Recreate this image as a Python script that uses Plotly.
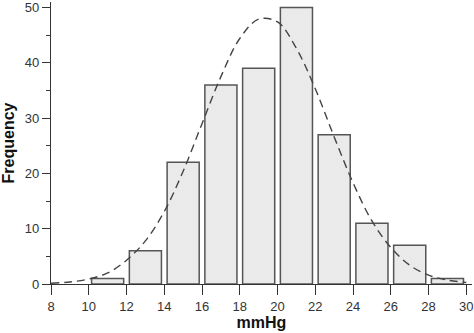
import plotly.graph_objects as go

bin_left = [10, 12, 14, 16, 18, 20, 22, 24, 26, 28]
bin_width = 2
frequency = [1, 6, 22, 36, 39, 50, 27, 11, 7, 1]

curve_x = [8, 9, 10, 11, 12, 13, 14, 15, 16, 17, 18, 19, 20, 21, 22, 23, 24, 25, 26, 27, 28, 29, 30]
curve_y = [0.14, 0.37, 0.91, 2.0, 4.3, 7.8, 13.1, 20.4, 29.0, 37.5, 44.4, 47.9, 47.4, 42.6, 35.3, 26.6, 18.3, 11.4, 6.6, 3.4, 1.6, 0.71, 0.28]

x_ticks = list(range(8, 31, 2))
y_ticks = [0, 10, 20, 30, 40, 50]

centers = [b + bin_width / 2 for b in bin_left]

fig = go.Figure()
fig.add_trace(go.Bar(
    x=centers, y=frequency, width=1.7,
    marker=dict(
        color="#f0f0f0",
        line=dict(color="#555555", width=1.5),
        pattern=dict(shape=".", fgcolor="#c6c6c6", bgcolor="#f3f3f3", size=2, solidity=0.4),
    ),
    showlegend=False,
))
fig.add_trace(go.Scatter(
    x=curve_x, y=curve_y, mode="lines", line_shape="spline",
    line=dict(color="#444444", width=1.4, dash="8px,5px"),
    showlegend=False,
))

axis_font = dict(family="Liberation Sans, Arial, sans-serif", size=13, color="#333333")
title_font = dict(family="Liberation Sans, Arial, sans-serif", size=16, color="#111111")

fig.update_layout(
    width=474, height=333,
    margin=dict(l=51, r=1, t=0, b=49),
    plot_bgcolor="white", paper_bgcolor="white",
    xaxis=dict(
        range=[8, 30.3], tickvals=x_ticks, ticktext=[str(v) for v in x_ticks],
        ticks="outside", ticklen=10, tickwidth=1.2, tickcolor="#333333",
        ticklabeloverflow="allow",
        showline=True, linecolor="#333333", linewidth=1.2,
        showgrid=False, zeroline=False, tickfont=axis_font,
        title=dict(text="<b>mmHg</b>", font=title_font, standoff=4),
    ),
    yaxis=dict(
        range=[0, 51], tickvals=y_ticks,
        ticks="outside", ticklen=8, tickwidth=1.2, tickcolor="#333333",
        ticklabeloverflow="allow",
        minor=dict(dtick=5, tick0=0, ticks="outside", ticklen=4, tickwidth=1.2, tickcolor="#333333"),
        showline=True, linecolor="#333333", linewidth=1.2,
        showgrid=False, zeroline=False, tickfont=axis_font,
        title=dict(text="<b>Frequency</b>", font=title_font, standoff=8),
    ),
)

fig.write_html("out.html")
